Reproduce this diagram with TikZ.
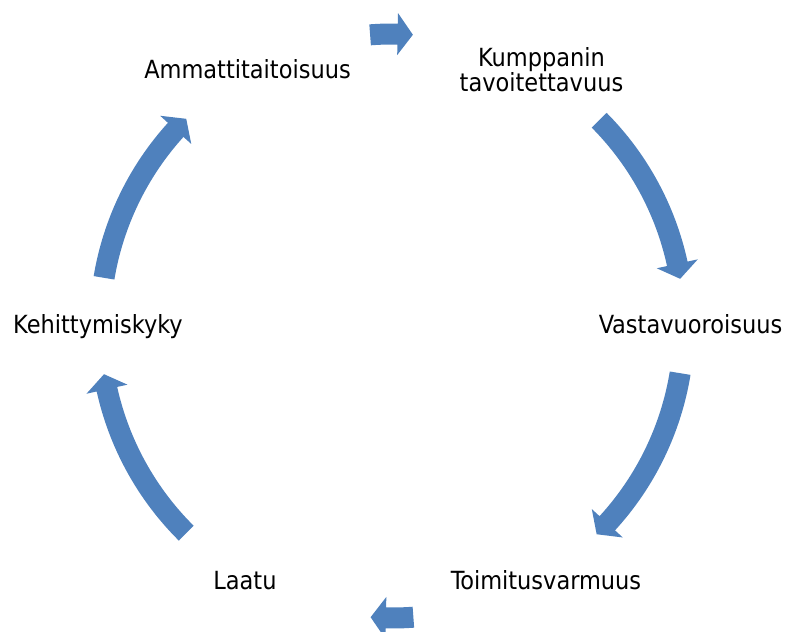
\documentclass[tikz,border=0pt]{standalone}
\usepackage{fontspec}
\setmainfont{DejaVu Sans Condensed}
\definecolor{cycleblue}{HTML}{4F81BD}
% block arc arrow around the cycle centre: #1 tail angle, #2 head base angle, #3 tip angle
\newcommand\cyclearrow[3]{%
  \fill[cycleblue] (#1:302.5pt) arc[start angle=#1, end angle=#2, radius=302.5pt]
    -- (#2:313pt) -- (#3:292pt) -- (#2:271pt) -- (#2:281.5pt)
    arc[start angle=#2, end angle=#1, radius=281.5pt] -- cycle;}
\begin{document}
\begin{tikzpicture}[x=1pt,y=1pt,
  label/.style={inner sep=0pt, anchor=base, font=\fontsize{25}{24}\selectfont, text=black}]
\useasboundingbox (0,0) rectangle (785,-632);

% cycle labels
\node[label] (amm) at (247.5,-78) {Ammattitaitoisuus};
\node[label, align=center] (kum) at (541.5,-91.7) {Kumppanin\\tavoitettavuus};
\node[label] (vas) at (690.5,-333) {Vastavuoroisuus};
\node[label] (toi) at (546,-589) {Toimitusvarmuus};
\node[label] (laa) at (245,-589) {Laatu};
\node[label] (keh) at (98,-333) {Kehittymiskyky};

% clockwise arrows between the labels
\begin{scope}[shift={(392,-326)}]
  \cyclearrow{94.3}{88.9}{85.9}
  \cyclearrow{44.8}{12.3}{9.3}
  \cyclearrow{-9.3}{-42.5}{-45.5}
  \cyclearrow{-85.8}{-91.2}{-94.2}
  \cyclearrow{-134.8}{-167.5}{-170.5}
  \cyclearrow{170.5}{137.8}{134.8}
\end{scope}
\end{tikzpicture}
\end{document}
